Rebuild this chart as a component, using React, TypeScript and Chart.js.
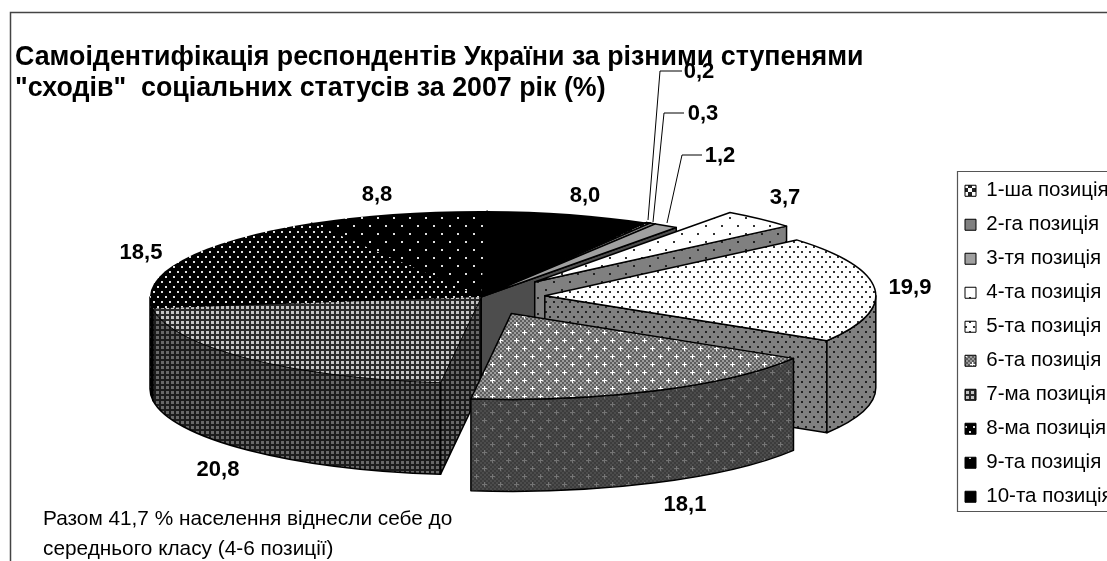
import React, { useEffect, useRef } from "react";
import { Chart, registerables } from "chart.js";

Chart.register(...registerables);

const categories = ["1-ша позиція", "2-га позиція", "3-тя позиція", "4-та позиція", "5-та позиція", "6-та позиція", "7-ма позиція", "8-ма позиція", "9-та позиція", "10-та позиція"];
const shares = [0.2, 0.3, 1.2, 3.7, 19.9, 18.1, 20.8, 18.5, 8.8, 8.0];
const titleLines = ["Самоідентифікація респондентів України за різними ступенями", "\"сходів\"  соціальних статусів за 2007 рік (%)"];
const noteLines = ["Разом 41,7 % населення віднесли себе до", "середнього класу (4-6 позиції)"];

// layout of the 3D projection (not data)
const CX = 481, CY = 297, RX = 331, RY = 86, DEPTH = 92;
const explode = [0, 0, 0, 79, 64, 70, 0, 0, 0, 0];
const paintOrder = [8, 9, 0, 1, 2, 3, 7, 4, 6, 5];
const labelCenters: [number, number][] = [[699, 72], [703, 114], [720, 156], [785, 198], [910, 288], [685, 505], [218, 470], [141, 253], [377, 195], [585, 196]];
const leaders: [number, number][][] = [
  [[682, 71], [660, 71], [648, 220]],
  [[684, 113], [664, 113], [653, 222]],
  [[702, 155], [682, 155], [667, 223]],
];

type Dot = [number, number, number, number, string];
function tile(w: number, h: number, bg: string, dots: Dot[]) {
  const c = document.createElement("canvas");
  c.width = w; c.height = h;
  const x = c.getContext("2d")!;
  x.fillStyle = bg; x.fillRect(0, 0, w, h);
  for (const [a, b, dw, dh, col] of dots) { x.fillStyle = col; x.fillRect(a, b, dw, dh); }
  return x.createPattern(c, "repeat")!;
}
const dense = (col: string): Dot[] => [[1, 1, 2, 2, col], [5, 6, 2, 2, col]];
const sparse = (col: string): Dot[] => [[1, 1, 2, 2, col], [9, 9, 2, 2, col]];
function checker(a: string, plus: string): Dot[] {
  const d: Dot[] = [];
  for (let j = 0; j < 16; j += 2) for (let i = 0; i < 16; i += 2) if ((i + j) % 4 === 0) d.push([i, j, 2, 2, a]);
  for (const [px, py] of [[4, 4], [12, 12]]) {
    d.push([px - 2, py, 5, 1, plus], [px, py - 2, 1, 5, plus]);
  }
  return d;
}

export default function App() {
  const ref = useRef<HTMLCanvasElement>(null);
  useEffect(() => {
    const tops = [
      tile(8, 8, "#ffffff", [[0, 0, 4, 4, "#222"], [4, 4, 4, 4, "#222"]]),
      "#808080",
      "#a0a0a0",
      tile(16, 16, "#ffffff", sparse("#333")),
      tile(8, 10, "#ffffff", dense("#333")),
      tile(16, 16, "#9a9a9a", checker("#5c5c5c", "#ffffff")),
      tile(5, 5, "#2a2a2a", [[1, 1, 3, 3, "#c4c4c4"]]),
      tile(8, 10, "#000000", dense("#e0e0e0")),
      tile(16, 16, "#000000", sparse("#e0e0e0")),
      "#000000",
    ];
    const walls = [
      "#111111",
      "#333333",
      "#4d4d4d",
      tile(16, 16, "#808080", sparse("#222")),
      tile(8, 10, "#808080", dense("#222")),
      tile(16, 16, "#4c4c4c", checker("#3c3c3c", "#747474")),
      tile(5, 5, "#1c1c1c", [[1, 1, 3, 3, "#686868"]]),
      tile(8, 10, "#000000", dense("#707070")),
      tile(16, 16, "#000000", sparse("#707070")),
      "#000000",
    ];

    const pie3d = {
      id: "pie3d",
      beforeDraw(chart: any) {
        const c = chart.ctx;
        c.save();
        c.fillStyle = "#fff"; c.fillRect(0, 0, 1107, 561);
        c.strokeStyle = "#444"; c.lineWidth = 1.5;
        c.beginPath(); c.moveTo(10.5, 561); c.lineTo(10.5, 12.5); c.lineTo(1107, 12.5); c.stroke();
        c.strokeStyle = "#555"; c.lineWidth = 1.2;
        c.beginPath(); c.moveTo(1107, 171.5); c.lineTo(957.5, 171.5); c.lineTo(957.5, 511.5); c.lineTo(1107, 511.5); c.stroke();
        c.restore();
      },
      afterLayout(chart: any) {
        const t = chart.titleBlock;
        t.left = 15; t.right = 1000;
        const l = chart.legend;
        const w = l.right - l.left, h = l.bottom - l.top;
        l.left = 951.5; l.right = 951.5 + w; l.top = 167; l.bottom = 167 + h;
      },
      beforeDatasetDraw() { return false; },
      afterDatasetsDraw(chart: any) {
        const c = chart.ctx;
        const arcs = chart.getDatasetMeta(0).data;
        c.save();
        c.strokeStyle = "#000"; c.lineWidth = 1.5; c.lineJoin = "round";
        for (const i of paintOrder) {
          const s = arcs[i].startAngle, e = arcs[i].endAngle, mid = (s + e) / 2;
          const x = CX + explode[i] * Math.cos(mid);
          const y = CY + explode[i] * Math.sin(mid) * (RY / RX);
          const radial = (a: number) => {
            c.beginPath();
            c.moveTo(x, y);
            c.lineTo(x + RX * Math.cos(a), y + RY * Math.sin(a));
            c.lineTo(x + RX * Math.cos(a), y + RY * Math.sin(a) + DEPTH);
            c.lineTo(x, y + DEPTH);
            c.closePath();
            c.fillStyle = walls[i]; c.fill(); c.stroke();
          };
          if (Math.cos(s) < 0) radial(s);
          if (Math.cos(e) > 0) radial(e);
          for (let k = -2; k <= 2; k++) {
            const lo = Math.max(s, k * 2 * Math.PI), hi = Math.min(e, k * 2 * Math.PI + Math.PI);
            if (hi > lo) {
              c.beginPath();
              c.ellipse(x, y, RX, RY, 0, lo, hi);
              c.ellipse(x, y + DEPTH, RX, RY, 0, hi, lo, true);
              c.closePath();
              c.fillStyle = walls[i]; c.fill(); c.stroke();
            }
          }
          c.beginPath();
          c.moveTo(x, y);
          c.ellipse(x, y, RX, RY, 0, s, e);
          c.closePath();
          c.fillStyle = tops[i]; c.fill();
          if (i < 6) c.stroke();
        }
        c.restore();
      },
      afterDraw(chart: any) {
        const c = chart.ctx;
        c.save();
        c.strokeStyle = "#000"; c.lineWidth = 1;
        for (const pts of leaders) {
          c.beginPath();
          pts.forEach(([a, b], n) => (n ? c.lineTo(a, b) : c.moveTo(a, b)));
          c.stroke();
        }
        c.fillStyle = "#000";
        c.font = "bold 22px 'Liberation Sans'";
        c.textAlign = "center"; c.textBaseline = "middle";
        shares.forEach((v, i) => c.fillText(v.toFixed(1).replace(".", ","), labelCenters[i][0], labelCenters[i][1]));
        c.font = "20.8px 'Liberation Sans'";
        c.textAlign = "left";
        noteLines.forEach((t, i) => c.fillText(t, 43, 519 + i * 30));
        c.restore();
      },
    };

    const chart = new Chart(ref.current!, {
      type: "pie",
      data: {
        labels: categories,
        datasets: [{ data: shares, backgroundColor: tops as any, borderColor: "#000", borderWidth: 1 }],
      },
      options: {
        responsive: false,
        animation: false,
        events: [],
        rotation: 30,
        plugins: {
          tooltip: { enabled: false },
          title: {
            display: true,
            text: titleLines,
            align: "start",
            color: "#000",
            font: { family: "'Liberation Sans'", weight: "bold", size: 26.8, lineHeight: 1.16 },
            padding: { top: 42, bottom: 0 },
          },
          legend: {
            position: "right",
            align: "start",
            labels: {
              color: "#000",
              font: { family: "'Liberation Sans'", size: 20.5 },
              boxWidth: 11,
              boxHeight: 11,
              padding: 13.5,
            },
          },
        },
      },
      plugins: [pie3d],
    } as any);
    return () => chart.destroy();
  }, []);
  return (
    <div style={{ position: "fixed", left: 0, top: 0, width: 1107, height: 561 }}>
      <canvas ref={ref} width={1107} height={561} style={{ display: "block" }} />
    </div>
  );
}
